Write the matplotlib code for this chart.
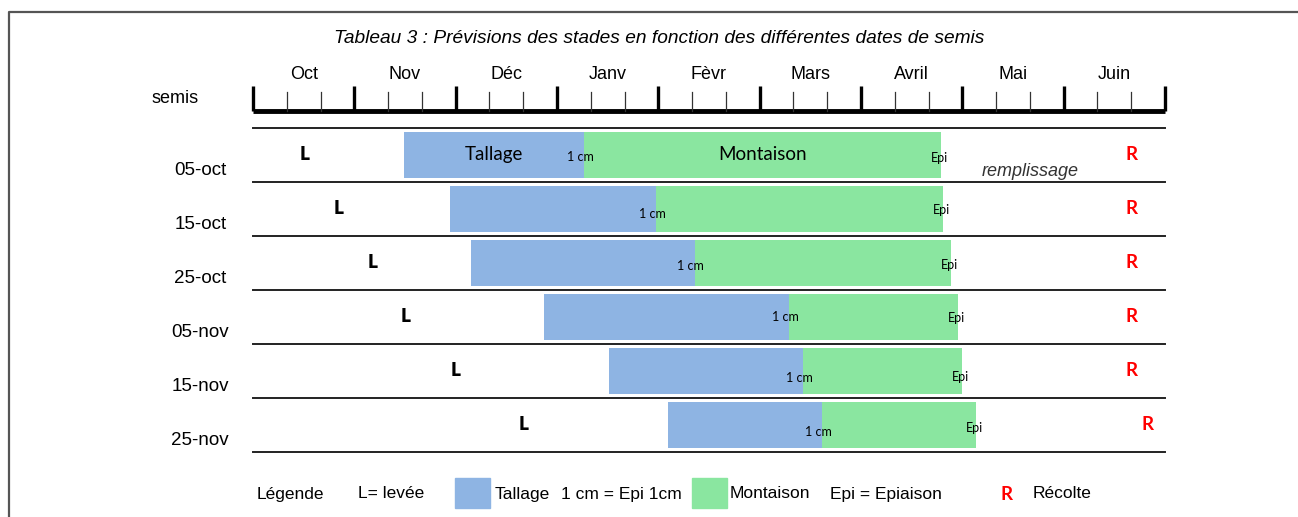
import matplotlib
matplotlib.use("Agg")
import matplotlib.pyplot as plt
from matplotlib.patches import Rectangle

# Calendar (one unit = one month, starting 1 Oct)
months = ["Oct", "Nov", "Déc", "Janv", "Fèvr", "Mars", "Avril", "Mai", "Juin"]
semis = ["05-oct", "15-oct", "25-oct", "05-nov", "15-nov", "25-nov"]

levee = [0.51, 0.84, 1.18, 1.51, 2.00, 2.67]
tallage_debut = [1.49, 1.94, 2.15, 2.87, 3.51, 4.10]
epi_1cm = [3.27, 3.98, 4.36, 5.29, 5.43, 5.62]
epiaison = [6.79, 6.81, 6.89, 6.96, 7.00, 7.14]
recolte = [8.67, 8.67, 8.67, 8.67, 8.67, 8.83]

BLUE = "#8EB4E3"
GREEN = "#8AE6A0"
NARROW = ["Liberation Sans", "DejaVu Sans"]
CAL = ["Lato", "DejaVu Sans"]

# small vertical nudges of the in-bar labels (row units)
cm_dy = [0.04, 0.10, 0.06, 0.00, 0.13, 0.13]
epi_dy = [0.06, 0.02, 0.04, 0.02, 0.11, 0.06]

W, H = 1298, 517
X0, MW = 253, 101.33      # pixel of 1 Oct, pixels per month
Y0, RH = 155, 54          # pixel of first row centre, pixels per row

fig = plt.figure(figsize=(W / 100, H / 100), dpi=100)
ax = fig.add_axes([0, 0, 1, 1])
ax.set_xlim(-X0 / MW, (W - X0) / MW)
ax.set_ylim((H - Y0) / RH, -Y0 / RH)
ax.axis("off")


def px(x):
    return (x - X0) / MW


def py(y):
    return (y - Y0) / RH


# outer frame
ax.plot([px(9), px(9), px(W + 5)], [py(H + 5), py(12), py(12)],
        color="#555555", lw=1.6, solid_capstyle="butt")

# title
ax.text(px(659), py(39), "Tableau 3 : Prévisions des stades en fonction des différentes dates de semis",
        ha="center", va="center", fontsize=13.8, style="italic", family=NARROW)

# timeline
n = len(months)
ax.plot([0, n], [py(111), py(111)], color="black", lw=3.5, solid_capstyle="butt")
for m in range(n + 1):
    ax.plot([m, m], [py(111), py(86)], color="black", lw=2.4, solid_capstyle="butt")
    if m < n:
        for k in (1, 2):
            ax.plot([m + k / 3, m + k / 3], [py(111), py(92)], color="#333333", lw=0.9)
        ax.text(m + 0.5, py(75), months[m], ha="center", va="center",
                fontsize=13, family=NARROW)
ax.text(px(175), py(99), "semis", ha="center", va="center", fontsize=13, family=NARROW)

# row separators
rows = range(len(semis))
for i in range(len(semis) + 1):
    ax.plot([0, n], [i - 0.5, i - 0.5], color="#222222", lw=1.4)

# stage bars
ax.barh(list(rows), [e - s for s, e in zip(tallage_debut, epi_1cm)], left=tallage_debut,
        height=0.85, color=BLUE)
ax.barh(list(rows), [e - s for s, e in zip(epi_1cm, epiaison)], left=epi_1cm,
        height=0.85, color=GREEN)

for i in rows:
    ax.text(-0.52, i + 0.29, semis[i], ha="center", va="center", fontsize=13.5, family=NARROW)
    ax.text(levee[i], i, "L", ha="center", va="center", fontsize=13.5,
            fontweight="heavy", family=CAL)
    ax.text(epi_1cm[i] - 0.04, i + cm_dy[i], "1 cm", ha="center", va="center",
            fontsize=9, family=CAL)
    ax.text(epiaison[i] + 0.07, i + epi_dy[i], "Epi", ha="right", va="center",
            fontsize=9, family=CAL)
    ax.text(recolte[i], i, "R", ha="center", va="center", fontsize=13.5,
            fontweight="bold", color="red", family=CAL)

ax.text((tallage_debut[0] + epi_1cm[0]) / 2, 0, "Tallage", ha="center", va="center",
        fontsize=13.5, family=CAL)
ax.text((epi_1cm[0] + epiaison[0]) / 2, 0, "Montaison", ha="center", va="center",
        fontsize=13.5, family=CAL)
ax.text(px(1030), py(172), "remplissage", ha="center", va="center", fontsize=13,
        style="italic", color="#333333", family=NARROW)

# legend
ly = py(494)
ax.add_patch(Rectangle((px(455), py(478)), px(490) - px(455), py(508) - py(478), color=BLUE))
ax.add_patch(Rectangle((px(692), py(478)), px(727) - px(692), py(508) - py(478), color=GREEN))
for x, s in [(257, "Légende"), (358, "L= levée"), (495, "Tallage"),
             (561, "1 cm = Epi 1cm"), (730, "Montaison"), (830, "Epi = Epiaison"),
             (1033, "Récolte")]:
    ax.text(px(x), ly, s, ha="left", va="center", fontsize=12.5, family=NARROW)
ax.text(px(1007), ly, "R", ha="center", va="center", fontsize=13.5, color="red",
        fontweight="bold", family=CAL)

fig.savefig("out.png", dpi=100)
